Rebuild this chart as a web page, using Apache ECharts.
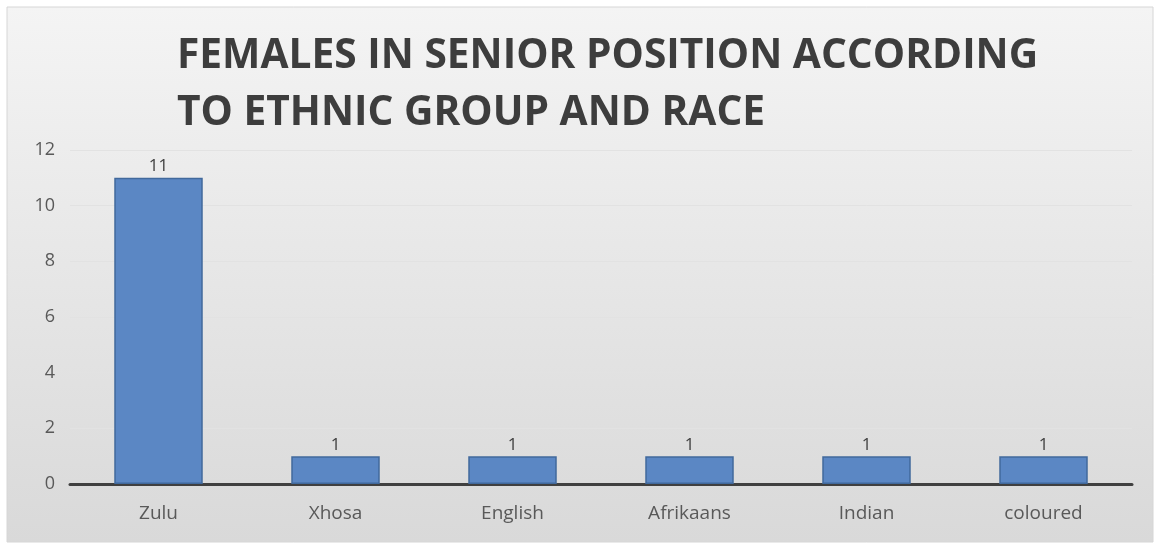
<!DOCTYPE html>
<html><head><meta charset="utf-8">
<script src="https://cdn.jsdelivr.net/npm/echarts@6/dist/echarts.min.js"></script>
<style>html,body{margin:0;padding:0;background:#fff}#c{width:1160px;height:549px}</style>
</head><body><div id="c"></div>
<script>
const categories = ['Zulu', 'Xhosa', 'English', 'Afrikaans', 'Indian', 'coloured'];
const values = [11, 1, 1, 1, 1, 1];
const titleLines = ['FEMALES IN SENIOR POSITION ACCORDING', 'TO ETHNIC GROUP AND RACE'];
const yTicks = { min: 0, max: 12, interval: 2 };

const chart = echarts.init(document.getElementById('c'));
chart.setOption({
  animation: false,
  graphic: [{
    type: 'rect', z: -10, silent: true,
    shape: { x: 7, y: 7, width: 1146, height: 535 },
    style: {
      fill: new echarts.graphic.LinearGradient(0, 0, 0, 1, [
        { offset: 0, color: '#f4f4f4' }, { offset: 1, color: '#d9d9d9' }
      ]),
      stroke: '#d6d6d6', lineWidth: 1
    }
  }],
  title: {
    text: titleLines.join('\n'),
    left: 172, top: 23,
    textStyle: { fontFamily: 'Open Sans', fontWeight: 'bold', fontSize: 40.7, lineHeight: 57, color: '#3d3d3d' }
  },
  grid: { left: 70, right: 28, top: 150, bottom: 65 },
  xAxis: {
    type: 'category', data: categories,
    axisLine: { lineStyle: { color: '#404040', width: 3 } },
    axisTick: { show: false },
    axisLabel: { color: '#595959', fontSize: 19, fontFamily: 'Open Sans', margin: 20 }
  },
  yAxis: {
    type: 'value', min: yTicks.min, max: yTicks.max, interval: yTicks.interval,
    axisLine: { show: false }, axisTick: { show: false },
    axisLabel: { color: '#595959', fontSize: 18, fontFamily: 'Open Sans', margin: 15 },
    splitLine: { lineStyle: { color: '#e2e2e2', width: 1 } }
  },
  series: [{
    type: 'bar', data: values, barWidth: '50%',
    itemStyle: { color: '#5b87c4', borderColor: '#41699c', borderWidth: 1.5 },
    label: { show: true, position: 'top', color: '#404040', fontSize: 17, fontFamily: 'Open Sans', distance: 3 }
  }]
});
</script></body></html>
